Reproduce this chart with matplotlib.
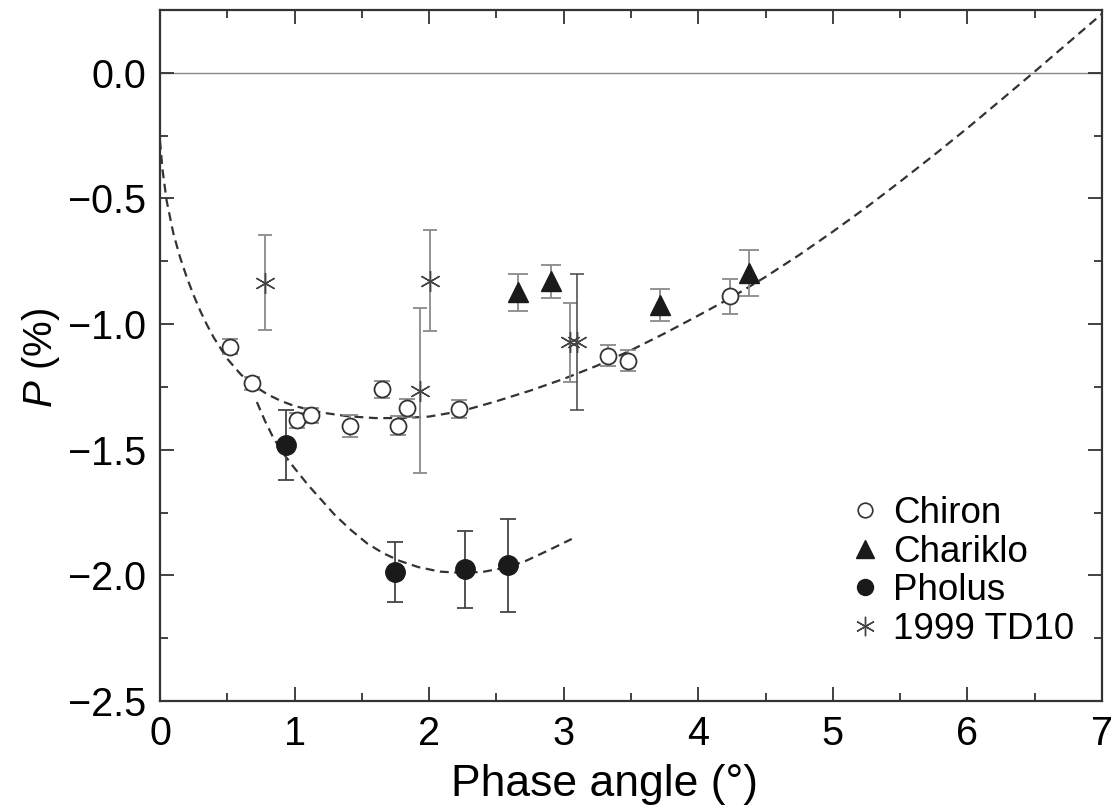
import numpy as np
import matplotlib
matplotlib.use('Agg')
import matplotlib.pyplot as plt
from matplotlib.lines import Line2D

plt.rcParams['font.family'] = ['Liberation Sans', 'DejaVu Sans']
plt.rcParams['mathtext.fontset'] = 'custom'
plt.rcParams['mathtext.it'] = 'Liberation Sans:italic'
plt.rcParams['mathtext.rm'] = 'Liberation Sans'

# Chiron
chiron_x = [0.52, 0.684, 1.016, 1.123, 1.413, 1.648, 1.77, 1.834, 2.223, 3.326, 3.477, 4.233]
chiron_y = [-1.09, -1.236, -1.383, -1.362, -1.405, -1.26, -1.405, -1.335, -1.337, -1.125, -1.145, -0.89]
chiron_err = [0.03, 0.025, 0.03, 0.03, 0.045, 0.033, 0.038, 0.035, 0.035, 0.04, 0.04, 0.07]

# Chariklo
chariklo_x = [2.66, 2.907, 3.712, 4.379]
chariklo_y = [-0.873, -0.83, -0.923, -0.797]
chariklo_err = [0.073, 0.065, 0.063, 0.09]

# Pholus
pholus_x = [0.937, 1.745, 2.265, 2.587]
pholus_y = [-1.482, -1.987, -1.976, -1.96]
pholus_err = [0.14, 0.12, 0.152, 0.185]

# 1999 TD10
td10_x = [0.78, 2.007, 1.933, 3.048, 3.098]
td10_y = [-0.835, -0.827, -1.265, -1.073, -1.07]
td10_err = [0.19, 0.2, 0.328, 0.156, 0.27]

# fitted curves
chiron_fit_x = [0.0, 0.02, 0.05, 0.10, 0.15, 0.20, 0.25, 0.30, 0.35, 0.40, 0.50, 0.60, 0.70,
                0.80, 0.90, 1.00, 1.20, 1.40, 1.60, 1.80, 2.00, 2.25, 2.50, 2.75, 3.00, 3.25,
                3.50, 3.75, 4.00, 4.25, 4.50, 4.75, 5.00, 5.25, 5.50, 5.75, 6.00, 6.25, 6.50,
                6.75, 7.00]
chiron_fit_y = [-0.27, -0.39, -0.51, -0.64, -0.735, -0.815, -0.885, -0.948, -1.004, -1.054,
                -1.138, -1.20, -1.246, -1.28, -1.306, -1.326, -1.352, -1.367, -1.374, -1.374,
                -1.368, -1.345, -1.307, -1.265, -1.218, -1.165, -1.104, -1.037, -0.966,
                -0.893, -0.812, -0.725, -0.632, -0.535, -0.433, -0.328, -0.22, -0.108, 0.005,
                0.12, 0.235]

pholus_fit_x = [0.72, 0.78, 0.84, 0.91, 0.98, 1.04, 1.10, 1.20, 1.30, 1.42, 1.54, 1.66, 1.78,
                1.92, 2.08, 2.24, 2.40, 2.56, 2.72, 2.88, 3.06]
pholus_fit_y = [-1.31, -1.385, -1.45, -1.51, -1.56, -1.60, -1.64, -1.70, -1.76, -1.82, -1.873,
                -1.912, -1.942, -1.967, -1.985, -1.99, -1.986, -1.97, -1.942, -1.902, -1.855]

fig = plt.figure(figsize=(11.17, 8.11), dpi=100)
ax = fig.add_axes([0.1432, 0.1356, 0.8434, 0.8521])

ax.axhline(0, color='#888888', lw=1.0, zorder=1)
ax.plot(chiron_fit_x, chiron_fit_y, ls=(0, (4, 2.5)), color='#333333', lw=1.6, zorder=2)
ax.plot(pholus_fit_x, pholus_fit_y, ls=(0, (4, 2.5)), color='#333333', lw=1.6, zorder=2)

grey = '#8a8a8a'
ax.errorbar(td10_x[:-1], td10_y[:-1], yerr=td10_err[:-1], fmt='none', ecolor=grey,
            elinewidth=1.3, capsize=5, capthick=1.3, zorder=3)
ax.errorbar(td10_x[-1:], td10_y[-1:], yerr=td10_err[-1:], fmt='none', ecolor='#444444',
            elinewidth=1.1, capsize=5, capthick=1.1, zorder=3)
ax.plot(td10_x, td10_y, ls='none', marker=(6, 2, 0), ms=15, mec='#444444', mew=1.0, zorder=4)

ax.errorbar(chiron_x, chiron_y, yerr=chiron_err, fmt='o', ms=11.5, mfc='white', mec='#333333',
            mew=1.3, ecolor=grey, elinewidth=1.3, capsize=5.5, capthick=1.3, zorder=5)
ax.errorbar(chariklo_x, chariklo_y, yerr=chariklo_err, fmt='^', ms=15, mfc='#1a1a1a',
            mec='#1a1a1a', ecolor=grey, elinewidth=1.3, capsize=7, capthick=1.3, zorder=5)
ax.errorbar(pholus_x, pholus_y, yerr=pholus_err, fmt='o', ms=14, mfc='#1a1a1a', mec='#1a1a1a',
            ecolor='#444444', elinewidth=1.3, capsize=5.5, capthick=1.3, zorder=5)

ax.set_xlim(0, 7)
ax.set_ylim(-2.5, 0.25)
ax.set_xticks(np.arange(0, 8, 1))
ax.set_xticks(np.arange(0.5, 7, 1), minor=True)
ax.set_yticks(np.arange(-2.5, 0.01, 0.5))
ax.set_yticks(np.arange(-2.25, 0.25, 0.5), minor=True)
ax.set_yticklabels(['\u22122.5', '\u22122.0', '\u22121.5', '\u22121.0', '\u22120.5', '0.0'])
ax.tick_params(which='both', direction='in', top=True, right=True, width=1.3, color='#333333')
ax.tick_params(which='major', length=10, labelsize=28.5, pad=10)
ax.tick_params(which='minor', length=6)
for s in ax.spines.values():
    s.set_linewidth(1.6)
    s.set_color('#333333')

ax.set_xlabel('Phase angle (\u00b0)', fontsize=32, labelpad=8)
ax.xaxis.label.set_x(0.472)
ax.set_ylabel(r'$P$ (%)', fontsize=29, labelpad=4)
ax.yaxis.label.set_y(0.497)

handles = [
    Line2D([], [], ls='none', marker='o', ms=10.5, mfc='white', mec='#333333', mew=1.2),
    Line2D([], [], ls='none', marker='^', ms=13, mfc='#1a1a1a', mec='#1a1a1a'),
    Line2D([], [], ls='none', marker='o', ms=11.5, mfc='#1a1a1a', mec='#1a1a1a'),
    Line2D([], [], ls='none', marker=(6, 2, 0), ms=14, mec='#444444', mew=1.0),
]
ax.legend(handles, ['Chiron', 'Chariklo', 'Pholus', '1999 TD10'], loc='lower right',
          frameon=False, fontsize=26.5, handlelength=1.0, handletextpad=0.25,
          labelspacing=0.1, borderaxespad=0, bbox_to_anchor=(0.986, 0.057))

fig.savefig('out.png', dpi=100)
